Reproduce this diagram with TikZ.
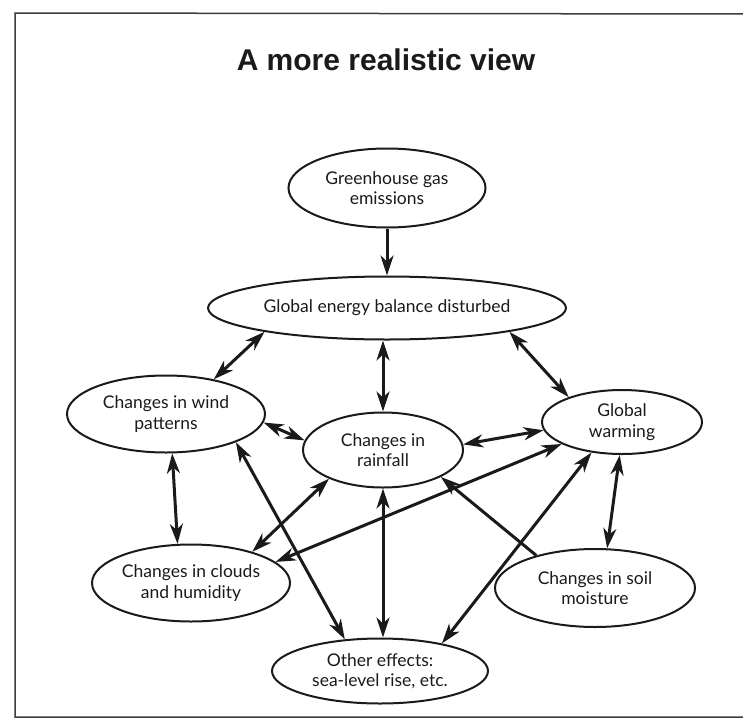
\documentclass[tikz,border=0pt]{standalone}
\usepackage{fontspec}
\setmainfont{Lato}
\newfontfamily\titlefont{Liberation Sans}
\usetikzlibrary{arrows.meta,shapes.geometric}
\definecolor{inkgray}{HTML}{1A1A1A}

\begin{document}
\begin{tikzpicture}[
    x=1pt,y=-1pt,
    every node/.style={font=\fontsize{17.5}{20.5}\selectfont,align=center,text=inkgray},
    bubble/.style={ellipse,draw=inkgray,line width=2pt,inner sep=0pt},
    arr/.style={-{Stealth[length=20pt,width=13pt,inset=6pt]},line width=3pt,color=inkgray},
    dbl/.style={{Stealth[length=20pt,width=13pt,inset=6pt]}-{Stealth[length=20pt,width=13pt,inset=6pt]},line width=3pt,color=inkgray}
  ]
    \useasboundingbox (0,0) rectangle (743,720);
    \draw[line width=1.5pt,color=inkgray!85] (743,14) -- (15,13) -- (15,717) -- (743,717);

    \node[font=\titlefont\bfseries\fontsize{30}{35}\selectfont] (title) at (386,60) {A more realistic view};

    \node[bubble,minimum width=197pt,minimum height=79pt] (ghg) at (387,188) {Greenhouse gas\\emissions};
    \node[bubble,minimum width=358pt,minimum height=63pt] (geb) at (387,308) {Global energy balance disturbed};
    \node[bubble,minimum width=198pt,minimum height=77pt] (wind) at (166,414) {Changes in wind\\patterns};
    \node[bubble,minimum width=160pt,minimum height=75pt] (rain) at (383,450) {Changes in\\rainfall};
    \node[bubble,minimum width=160pt,minimum height=64pt] (warm) at (622,422) {Global\\warming};
    \node[bubble,minimum width=198pt,minimum height=77pt] (cloud) at (191,583) {Changes in clouds\\and humidity};
    \node[bubble,minimum width=200pt,minimum height=78pt] (soil) at (595,588) {Changes in soil\\moisture};
    \node[bubble,minimum width=216pt,minimum height=65pt] (other) at (380,671) {Other effects:\\sea-level rise, etc.};

    \draw[arr] (ghg.south) -- (geb.north);
    \draw[dbl] (geb.191) -- (wind.36);
    \draw[dbl] (rain.north |- geb.south) -- (rain.north);
    \draw[dbl] (geb.349) -- (warm.155);
    \draw[dbl] (wind.355) -- (rain.173);
    \draw[dbl] (rain.4) -- (warm.186);
    \draw[dbl] (wind.338) -- (other.138);
    \draw[dbl] (wind.279) -- (cloud.109);
    \draw[dbl] (rain.208) -- (cloud.27);
    \draw[dbl] (cloud.14) -- (warm.200);
    \draw[dbl] (rain.south) -- (rain.south |- other.north);
    \draw[arr] (soil.151) -- (rain.335);
    \draw[dbl] (warm.225) -- (other.24);
    \draw[dbl] (warm.266) -- (soil.73);
  \end{tikzpicture}
\end{document}
